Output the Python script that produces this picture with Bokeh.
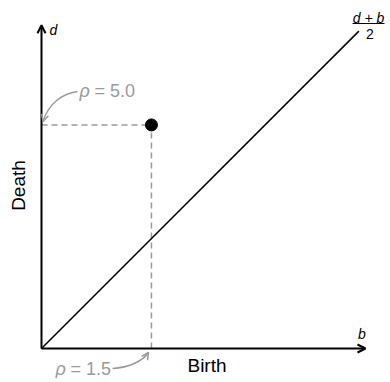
import math
from bokeh.plotting import figure
from bokeh.models import Arrow, OpenHead, Range1d
from bokeh.core.properties import value
from bokeh.embed import file_html
from bokeh.resources import INLINE

# ---- data ----
point_b = [1.5]
point_d = [3.05]
diag_b = [0.0, 4.33]
diag_d = [0.0, 4.33]
axis_end_b = 4.42
axis_end_d = 4.41
label_rho_d = "= 5.0"
label_rho_b = "= 1.5"
x_label = "Birth"
y_label = "Death"

FONT = value("Liberation Sans")
GRAY = "#9a9a9a"
W, H = 386, 378
S = 73.3  # px per unit

p = figure(width=W, height=H, output_backend="svg", toolbar_location=None,
           x_axis_type=None, y_axis_type=None, min_border=0,
           x_range=Range1d(-41 / S, (W - 41) / S), y_range=Range1d(-(H - 348) / S, 348 / S))
p.grid.visible = False
p.outline_line_color = None
p.background_fill_color = "white"
p.border_fill_color = "white"

# dashed guides
p.line(x=[0, point_b[0]], y=[point_d[0], point_d[0]], line_color=GRAY, line_width=1.5, line_dash="6 4")
p.line(x=[point_b[0], point_b[0]], y=[0, point_d[0]], line_color=GRAY, line_width=1.5, line_dash="6 4")

# diagonal
p.line(x=diag_b, y=diag_d, line_color="black", line_width=1.5)

# axes with arrows
p.add_layout(Arrow(end=OpenHead(size=8, line_width=2, line_color="black"),
                   x_start=0, y_start=0, x_end=axis_end_b, y_end=0,
                   line_width=2, line_color="black"))
p.add_layout(Arrow(end=OpenHead(size=8, line_width=2, line_color="black"),
                   x_start=0, y_start=0, x_end=0, y_end=axis_end_d,
                   line_width=2, line_color="black"))

# point
p.scatter(x=point_b, y=point_d, size=12, color="black")

# curved annotation arrows (data units)
def px(xp, yp):
    return (xp - 41) / S, (348 - yp) / S

s0, c0, c1, e0 = px(77, 91), px(62, 93), px(48, 103), px(42.5, 121)
p.bezier(x0=[s0[0]], y0=[s0[1]], x1=[e0[0]], y1=[e0[1]], cx0=[c0[0]], cy0=[c0[1]],
         cx1=[c1[0]], cy1=[c1[1]], line_color=GRAY, line_width=1.5)
p.add_layout(Arrow(end=OpenHead(size=7, line_width=1.5, line_color=GRAY),
                   x_start=c1[0], y_start=c1[1], x_end=e0[0], y_end=e0[1], line_alpha=0))

s1, d0, d1, e1 = px(112, 368), px(128, 367), px(142, 361), px(148, 352)
p.bezier(x0=[s1[0]], y0=[s1[1]], x1=[e1[0]], y1=[e1[1]], cx0=[d0[0]], cy0=[d0[1]],
         cx1=[d1[0]], cy1=[d1[1]], line_color=GRAY, line_width=1.5)
p.add_layout(Arrow(end=OpenHead(size=7, line_width=1.5, line_color=GRAY),
                   x_start=d1[0], y_start=d1[1], x_end=e1[0], y_end=e1[1], line_alpha=0))

# rho labels
r5 = px(79, 90)
r15 = px(55, 368)
p.text(x=[r5[0], r15[0]], y=[r5[1], r15[1]], text=["ρ", "ρ"], text_font=FONT,
       text_font_style="italic", text_font_size="18px", text_color=GRAY,
       text_align="left", text_baseline="middle")
p.text(x=[r5[0], r15[0]], y=[r5[1], r15[1]], text=[label_rho_d, label_rho_b], text_font=FONT,
       text_font_size="18px", text_color=GRAY, text_align="left", text_baseline="middle",
       x_offset=15)

# axis titles
bx = px(206.5, 365)
p.text(x=[bx[0]], y=[bx[1]], text=[x_label], text_font=FONT, text_font_size="19px",
       text_align="center", text_baseline="middle", text_color="black")
dy = px(17.5, 185)
p.text(x=[dy[0]], y=[dy[1]], text=[y_label], text_font=FONT, text_font_size="19px",
       text_align="center", text_baseline="middle", text_color="black", angle=math.pi / 2)

# axis symbols
dl = px(53, 29.5)
bl = px(361.5, 333)
p.text(x=[dl[0], bl[0]], y=[dl[1], bl[1]], text=["d", "b"], text_font=FONT,
       text_font_style="italic", text_font_size="14px", text_align="center",
       text_baseline="middle", text_color="black")

# fraction label (d + b) / 2
fn = px(368, 17.5)
fd = px(369.5, 33)
p.text(x=[fn[0]], y=[fn[1]], text=["d + b"], text_font=FONT, text_font_style="italic",
       text_font_size="14px", text_align="center", text_baseline="middle", text_color="black")
p.text(x=[fd[0]], y=[fd[1]], text=["2"], text_font=FONT,
       text_font_size="14px", text_align="center", text_baseline="middle", text_color="black")
fl0 = px(352, 23)
fl1 = px(384, 23)
p.line(x=[fl0[0], fl1[0]], y=[fl0[1], fl1[1]], line_color="black", line_width=1)

open("out.html", "w").write(file_html(p, INLINE))
